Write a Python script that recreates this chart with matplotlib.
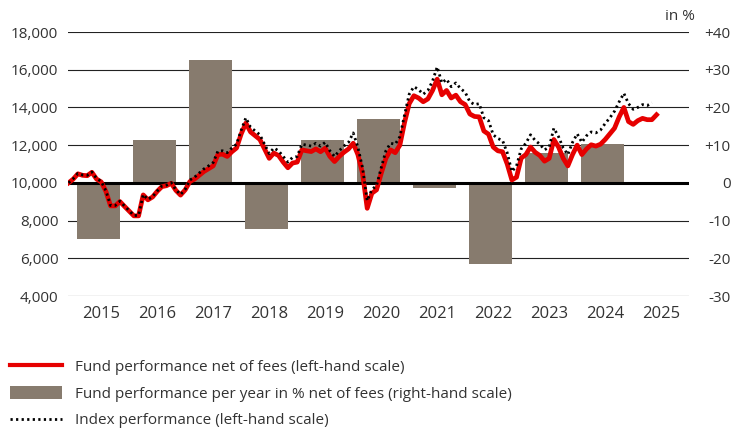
import numpy as np
import matplotlib
matplotlib.use('Agg')
import matplotlib.pyplot as plt
from matplotlib.lines import Line2D
from matplotlib.patches import Patch

plt.rcParams['font.family'] = ['Open Sans', 'DejaVu Sans']

# monthly values, first point end of 2014
start = 2014.92
fund = [10000, 10200, 10480, 10400, 10380, 10560, 10200, 10050, 9550, 8780,
        8780, 9010, 8750, 8500, 8250, 8250, 9360, 9100, 9250, 9550,
        9800, 9850, 9980, 9600, 9350, 9630, 10070, 10200, 10400, 10600,
        10750, 10900, 11500, 11520, 11400, 11650, 11850, 12600, 13170, 12700,
        12500, 12300, 11800, 11300, 11580, 11450, 11100, 10800, 11050, 11100,
        11750, 11700, 11660, 11800, 11650, 11840, 11400, 11130, 11400, 11620,
        11800, 12100, 11500, 10500, 8650, 9450, 9630, 10500, 11300, 11750,
        11600, 12000, 13200, 14200, 14620, 14500, 14300, 14450, 14900, 15500,
        14670, 14900, 14500, 14650, 14300, 14150, 13650, 13520, 13500, 12750,
        12580, 11900, 11700, 11650, 11000, 10150, 10300, 11310, 11500, 11900,
        11620, 11450, 11150, 11300, 12300, 11900, 11300, 10900, 11500, 12000,
        11500, 11800, 12020, 11950, 12050, 12300, 12600, 12900, 13500, 14000,
        13250, 13100, 13300, 13420, 13350, 13350, 13610]
index = [10000, 10220, 10500, 10420, 10400, 10580, 10230, 10080, 9580, 8800,
         8800, 9030, 8770, 8520, 8270, 8270, 9380, 9120, 9270, 9570,
         9830, 9880, 10010, 9630, 9380, 9660, 10150, 10300, 10520, 10740,
         10900, 11080, 11680, 11700, 11600, 11850, 12050, 12800, 13450, 12950,
         12750, 12550, 12050, 11550, 11850, 11700, 11400, 11100, 11350, 11400,
         12050, 12000, 11950, 12100, 11950, 12150, 11700, 11400, 11700, 11950,
         12150, 12650, 11900, 10800, 9050, 9650, 9850, 10800, 11700, 12100,
         12050, 12450, 13600, 14700, 15100, 14950, 14700, 14900, 15400, 16150,
         15300, 15500, 15100, 15300, 15000, 14800, 14300, 14150, 14200, 13450,
         13300, 12550, 12350, 12250, 11600, 10600, 10900, 11800, 12100, 12550,
         12250, 12050, 11750, 11900, 12900, 12450, 11850, 11500, 12150, 12600,
         12150, 12500, 12700, 12650, 12800, 13150, 13450, 13800, 14300, 14750,
         14200, 13900, 14000, 14150, 14100, 14250]

years = [2015, 2016, 2017, 2018, 2019, 2020, 2021, 2022, 2023, 2024]
yearly_pct = [-15.0, 11.4, 32.6, -12.2, 11.4, 17.0, -1.4, -21.4, 8.0, 10.3]

year_labels = ['2015', '2016', '2017', '2018', '2019', '2020', '2021', '2022', '2023', '2024', '2025']
left_ticks = [4000, 6000, 8000, 10000, 12000, 14000, 16000, 18000]
right_ticks = [-30, -20, -10, 0, 10, 20, 30, 40]
right_labels = ['-30', '-20', '-10', '0', '+10', '+20', '+30', '+40']

txt = '#333333'
bar_col = '#877b6e'

fig = plt.figure(figsize=(7.44, 4.28), dpi=100)
ax = fig.add_axes([68/744, 1-296/428, 621/744, 264/428])
ax2 = ax.twinx()
ax.set_zorder(ax2.get_zorder() + 1)
ax.patch.set_visible(False)

# bars + grid on right-hand axis
ax2.bar(np.array(years) + 0.46, yearly_pct, width=0.77, color=bar_col, zorder=2)
for v in right_ticks:
    ax2.axhline(v, color='#222222', lw=0.8, zorder=1)
ax2.set_ylim(-30, 40)
ax2.set_yticks(right_ticks)
ax2.set_yticklabels(right_labels, ha='right')
ax2.tick_params(axis='y', length=0, pad=30, labelsize=11, labelcolor=txt)

# lines on left-hand axis
xf = start + np.arange(len(fund)) / 12
xi = start + np.arange(len(index)) / 12
ax.axhline(10000, color='black', lw=2.2, zorder=1)
ax.plot(xf, fund, color='#e60000', lw=3.4, zorder=2, solid_joinstyle='round')
ax.plot(xi, index, color='black', lw=2, linestyle=(0, (0.8, 1.2)), zorder=3)
ax.set_ylim(4000, 18000)
ax.set_yticks(left_ticks)
ax.set_yticklabels([f'{v:,}' for v in left_ticks])
ax.tick_params(axis='y', length=0, pad=7, labelsize=11, labelcolor=txt)
ax.set_xlim(2014.91, 2026.0)
ax.set_xticks(np.arange(2015, 2026) + 0.5)
ax.set_xticklabels(year_labels)
ax.tick_params(axis='x', length=0, pad=7, labelsize=12, labelcolor=txt)

for a in (ax, ax2):
    for s in a.spines.values():
        s.set_visible(False)

fig.text(695/744, 1-16/428, 'in %', ha='right', va='center', fontsize=11, color=txt)

handles = [Line2D([], [], color='#e60000', lw=3),
           Patch(facecolor=bar_col, edgecolor='none'),
           Line2D([], [], color='black', lw=2, linestyle=(0, (0.8, 1.2)))]
labels = ['Fund performance net of fees (left-hand scale)',
          'Fund performance per year in % net of fees (right-hand scale)',
          'Index performance (left-hand scale)']
fig.legend(handles, labels, loc='upper left', bbox_to_anchor=(2/744, 1-352/428),
           frameon=False, fontsize=11, labelcolor=txt, handlelength=3.4,
           handleheight=0.9, handletextpad=0.85, labelspacing=0.72, borderpad=0)

fig.savefig('out.png', dpi=100)
